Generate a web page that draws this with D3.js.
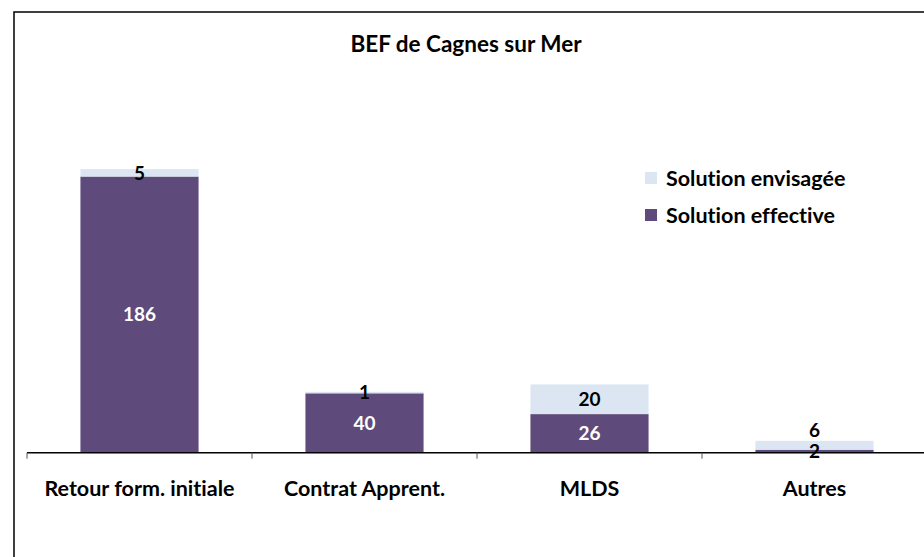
<!DOCTYPE html>
<html><head><meta charset="utf-8">
<script src="https://cdn.jsdelivr.net/npm/d3@7"></script>
<style>body{margin:0;background:#fff}svg{display:block}text{font-family:Lato,"Open Sans",sans-serif;font-weight:bold;font-variant-ligatures:none}</style>
</head><body><svg id="c" width="924" height="557"></svg>
<script>
const title = "BEF de Cagnes sur Mer";
const categories = ["Retour form. initiale","Contrat Apprent.","MLDS","Autres"];
const effective = [186, 40, 26, 2];
const envisagee = [5, 1, 20, 6];
const seriesNames = ["Solution envisagée","Solution effective"];
const colors = {eff:"#5f4b7b", env:"#dce6f2"};

const svg = d3.select("#c");
svg.append("rect").attr("x",14).attr("y",12).attr("width",940).attr("height",580)
  .attr("fill","#fff").attr("stroke","#000").attr("stroke-width",1.5);

const x = d3.scaleBand().domain(categories).range([27,927]).padding(0);
const y = d3.scaleLinear().domain([0,250]).range([452.7,81.5]);
const barW = x.bandwidth()*0.525;

const data = categories.map((c,i)=>({cat:c, eff:effective[i], env:envisagee[i]}));
const stack = d3.stack().keys(["eff","env"])(data);

const g = svg.append("g");
stack.forEach(layer=>{
  g.selectAll(null).data(layer).enter().append("rect")
    .attr("x",d=>x(d.data.cat)+(x.bandwidth()-barW)/2)
    .attr("width",barW)
    .attr("y",d=>y(d[1]))
    .attr("height",d=>y(d[0])-y(d[1]))
    .attr("fill",colors[layer.key]);
});

// axis
svg.append("line").attr("x1",27).attr("x2",924).attr("y1",y(0)).attr("y2",y(0))
  .attr("stroke","#000").attr("stroke-width",1.6);
const bounds = categories.map(c=>x(c)).concat([x.range()[1]]);
svg.selectAll(null).data(bounds).enter().append("line")
  .attr("x1",d=>d).attr("x2",d=>d).attr("y1",y(0)).attr("y2",y(0)+6)
  .attr("stroke","#555").attr("stroke-width",1);
svg.selectAll(null).data(categories).enter().append("text")
  .attr("x",d=>x(d)+x.bandwidth()/2).attr("y",496)
  .attr("text-anchor","middle").attr("font-size",21.5).attr("fill","#000").text(d=>d);

// value labels
const lblH = 21;
const effLayer = stack[0], envLayer = stack[1];
const effY = effLayer.map(d=>(y(d[0])+y(d[1]))/2);
const envY = envLayer.map((d,i)=>Math.min((y(d[0])+y(d[1]))/2, effY[i]-lblH));
[[effLayer,effY,"eff"],[envLayer,envY,"env"]].forEach(([layer,ys,key])=>{
  svg.selectAll(null).data(layer).enter().append("text")
    .attr("x",d=>x(d.data.cat)+x.bandwidth()/2)
    .attr("y",(d,i)=>ys[i])
    .attr("dy","0.36em")
    .attr("text-anchor","middle").attr("font-size",19)
    .attr("fill",d=> (key==="eff" && d.data.eff>10) ? "#fff" : "#000")
    .text(d=>d.data[key]);
});

// title
svg.append("text").attr("x",466).attr("y",44).attr("dy","0.36em").attr("text-anchor","middle")
  .attr("font-size",22.5).attr("fill","#000").text(title);

// legend
const leg = [{n:seriesNames[0],c:colors.env},{n:seriesNames[1],c:colors.eff}];
const lg = svg.selectAll(null).data(leg).enter().append("g")
  .attr("transform",(d,i)=>`translate(645,${178+i*37})`);
lg.append("rect").attr("x",0).attr("y",-6).attr("width",12).attr("height",12).attr("fill",d=>d.c);
lg.append("text").attr("x",21).attr("dy","0.36em").attr("font-size",21.5).attr("fill","#000").text(d=>d.n);
</script></body></html>
